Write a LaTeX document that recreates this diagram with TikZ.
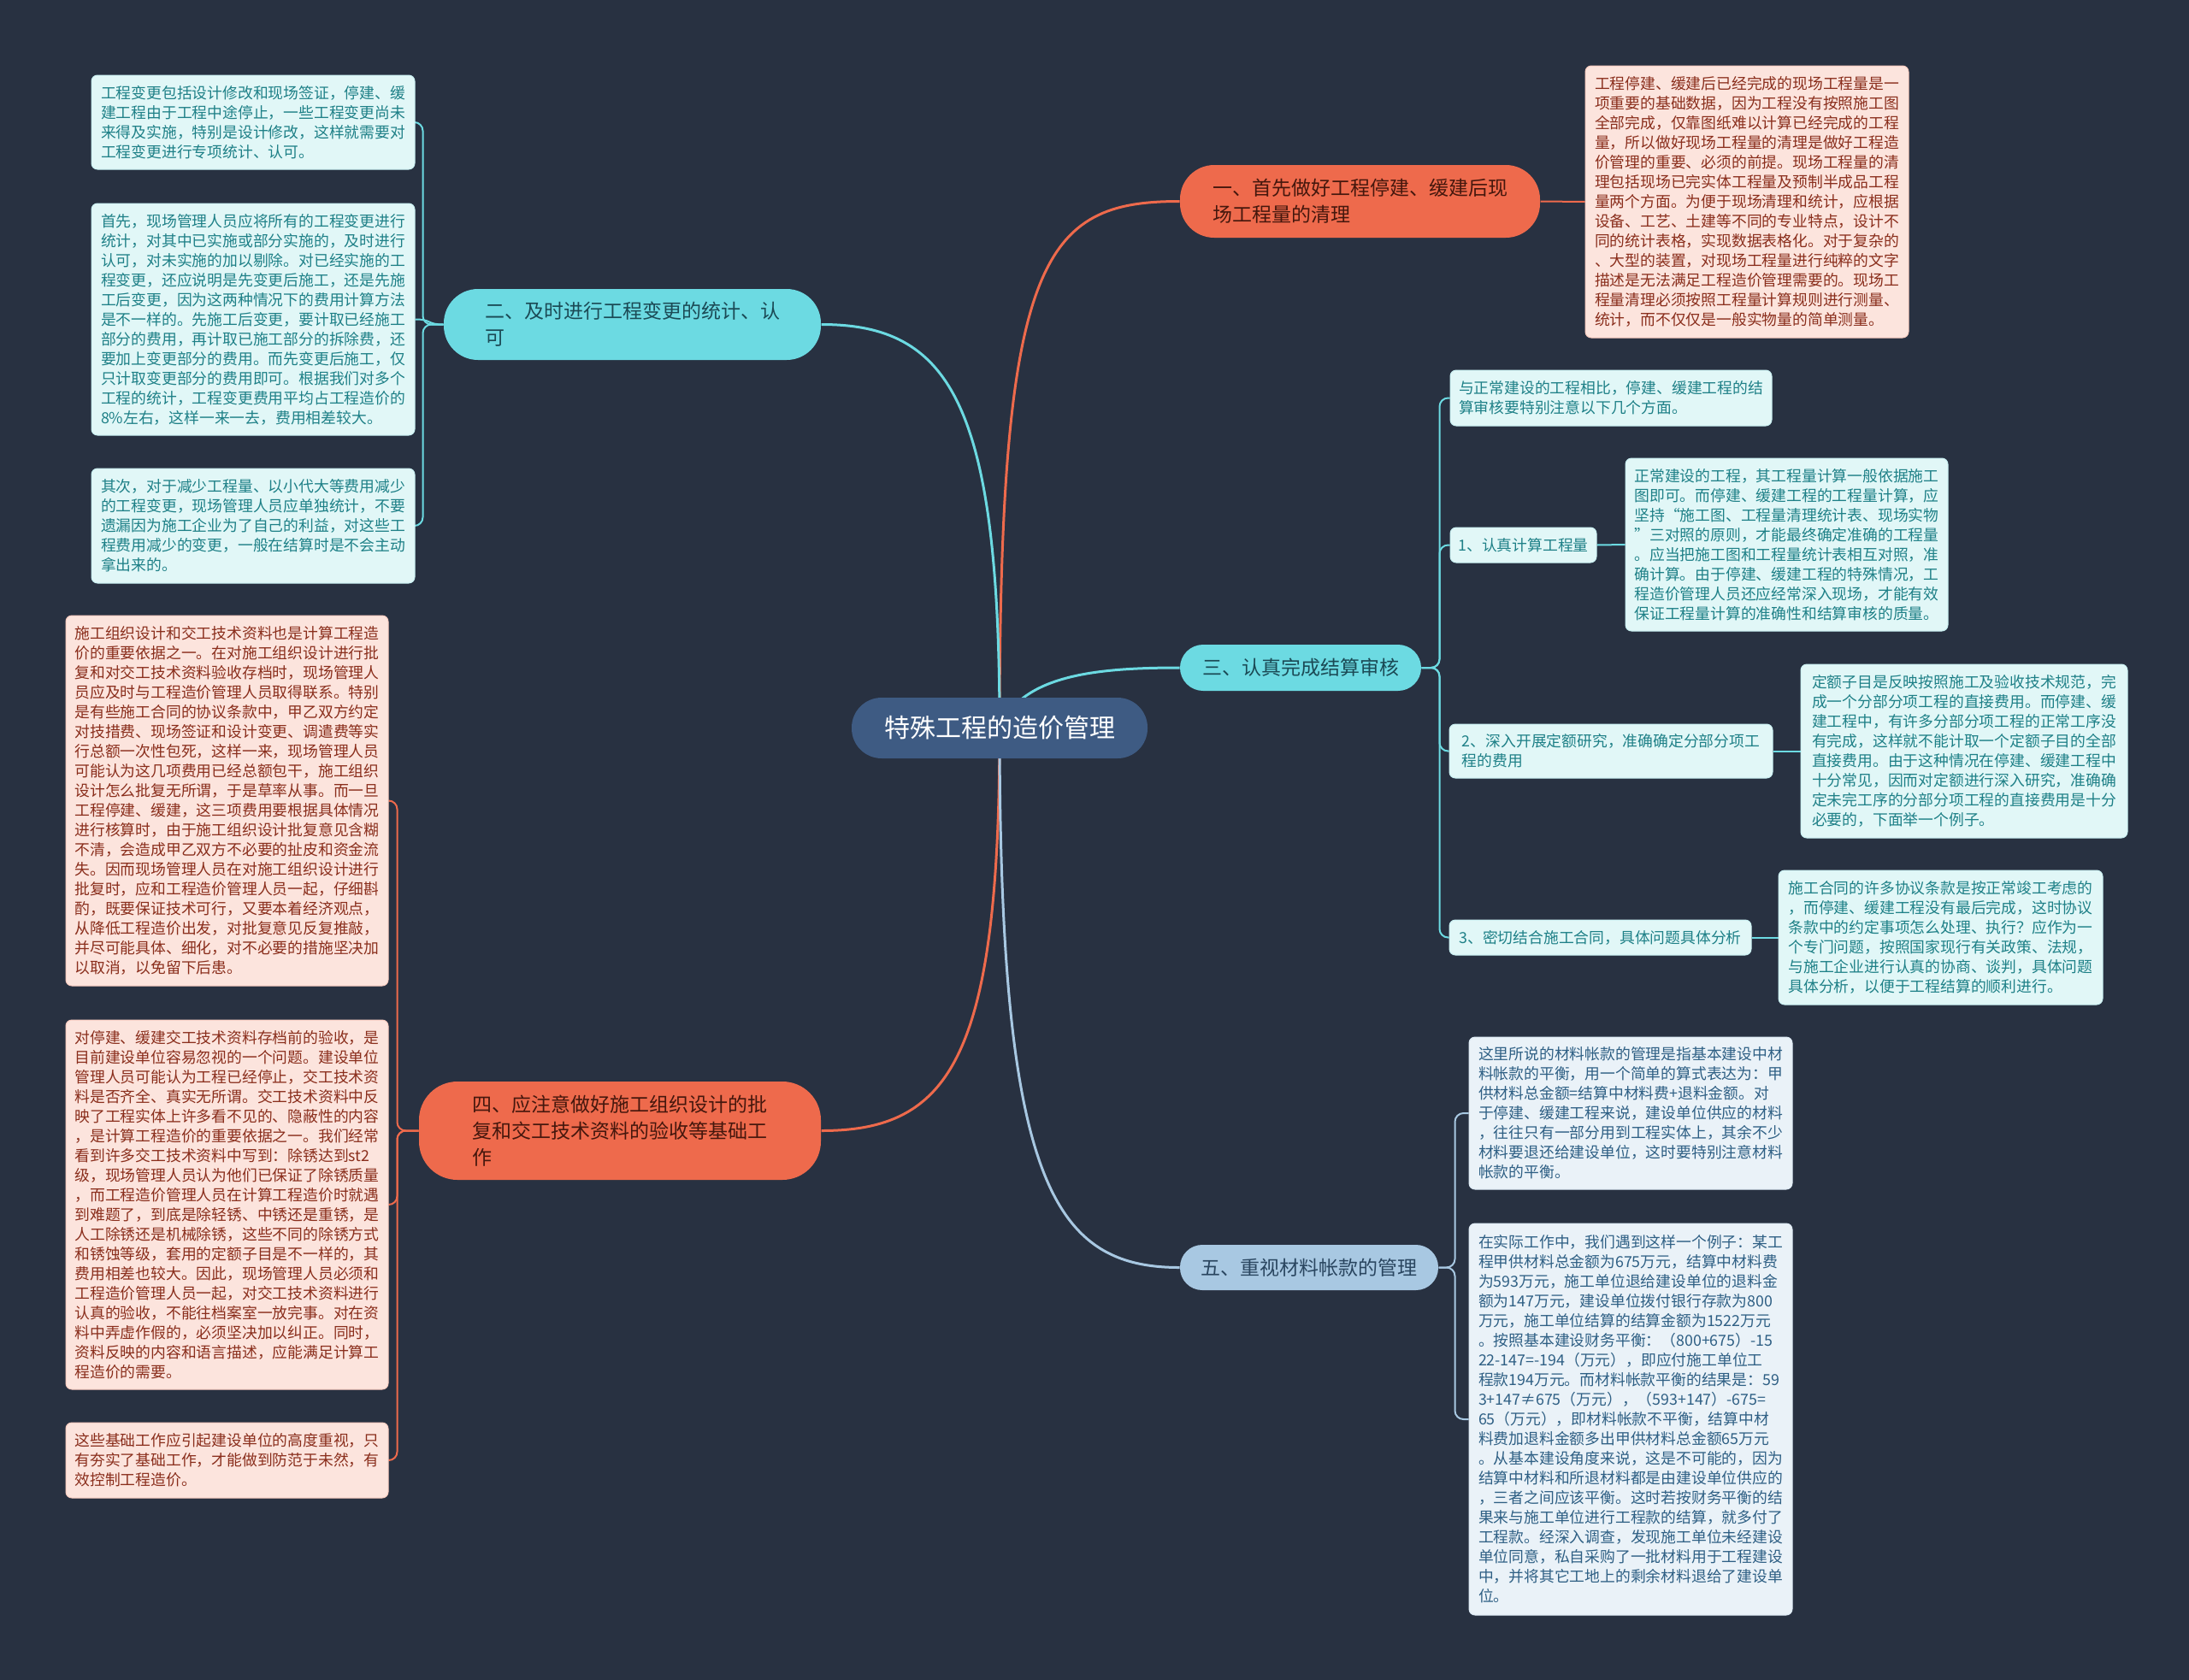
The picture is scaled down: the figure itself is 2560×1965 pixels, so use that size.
\documentclass[tikz,border=0pt]{standalone}
\usepackage{fontspec}
\setmainfont{Noto Sans CJK SC}
\pgfdeclarelayer{bglayer}
\pgfdeclarelayer{edgelayer}
\pgfsetlayers{bglayer,edgelayer,main}
\definecolor{bgc}{HTML}{283141}
\definecolor{centerc}{HTML}{3E5B83}
\definecolor{orc}{HTML}{EE6A4C}
\definecolor{cyc}{HTML}{6CDAE2}
\definecolor{blc}{HTML}{A8C8E2}
\definecolor{orfill}{HTML}{FCE4DD}
\definecolor{cyfill}{HTML}{E1F7F7}
\definecolor{blfill}{HTML}{EAF2F8}
\definecolor{ortext}{HTML}{8A2E1C}
\definecolor{cytext}{HTML}{1E8087}
\definecolor{bltext}{HTML}{2E5F84}
\definecolor{ormtext}{HTML}{45170D}
\definecolor{cymtext}{HTML}{1B4A55}
\definecolor{blmtext}{HTML}{2A4660}
\begin{document}
\begin{tikzpicture}[x=1pt,y=-1pt,
  box/.style={align=left, inner sep=0pt, line width=1pt},
  leaf/.style={box, rounded corners=7, font=\fontsize{17.8}{23}\selectfont},
  oleaf/.style={leaf, fill=orfill, draw=orfill!80!orc, text=ortext},
  cleaf/.style={leaf, fill=cyfill, draw=cyfill!80!cyc, text=cytext},
  bleaf/.style={leaf, fill=blfill, draw=blfill!80!blc, text=bltext},
  topic/.style={box, draw=none, font=\fontsize{23}{31}\selectfont},
  otopic/.style={topic, fill=orc, text=ormtext},
  ctopic/.style={topic, fill=cyc, text=cymtext},
  btopic/.style={topic, fill=blc, text=blmtext},
  oedge/.style={draw=orc, line width=3pt},
  cedge/.style={draw=cyc, line width=3pt},
  bedge/.style={draw=blc, line width=3pt},
  obrace/.style={draw=orc, line width=2pt, rounded corners=10},
  cbrace/.style={draw=cyc, line width=2pt, rounded corners=10},
  bbrace/.style={draw=blc, line width=2pt, rounded corners=10}
]
\begin{pgfonlayer}{bglayer}
\fill[bgc] (0,0) rectangle (2560,1965);
\end{pgfonlayer}
\useasboundingbox (0,0) rectangle (2560,1965);

% central node
\node[box, fill=centerc, text=white, rounded corners=35, minimum width=346, minimum height=71,
  font=\fontsize{30}{36}\selectfont] (c) at (1169,851.5) {特殊工程的造价管理};

% main topics
\node[otopic, rounded corners=40, minimum width=421, minimum height=85] (n1) at (1590.5,235.5)
  {一、首先做好工程停建、缓建后现\\场工程量的清理};
\node[ctopic, rounded corners=40, minimum width=441, minimum height=83] (n2) at (739.5,379.5)
  {二、及时进行工程变更的统计、认\\可};
\node[ctopic, rounded corners=27, minimum width=282, minimum height=54] (n3) at (1521,781)
  {三、认真完成结算审核};
\node[otopic, rounded corners=45, minimum width=470, minimum height=115] (n4) at (725,1322.5)
  {四、应注意做好施工组织设计的批\\复和交工技术资料的验收等基础工\\作};
\node[btopic, rounded corners=26, minimum width=302, minimum height=53] (n5) at (1531,1482.5)
  {五、重视材料帐款的管理};

% branch 1
\node[oleaf, minimum width=378, minimum height=318] (t1) at (2043,236) {%
工程停建、缓建后已经完成的现场工程量是一\\
项重要的基础数据，因为工程没有按照施工图\\
全部完成，仅靠图纸难以计算已经完成的工程\\
量，所以做好现场工程量的清理是做好工程造\\
价管理的重要、必须的前提。现场工程量的清\\
理包括现场已完实体工程量及预制半成品工程\\
量两个方面。为便于现场清理和统计，应根据\\
设备、工艺、土建等不同的专业特点，设计不\\
同的统计表格，实现数据表格化。对于复杂的\\
、大型的装置，对现场工程量进行纯粹的文字\\
描述是无法满足工程造价管理需要的。现场工\\
程量清理必须按照工程量计算规则进行测量、\\
统计，而不仅仅是一般实物量的简单测量。};

% branch 2
\node[cleaf, minimum width=378, minimum height=110] (a) at (296,143) {%
工程变更包括设计修改和现场签证，停建、缓\\
建工程由于工程中途停止，一些工程变更尚未\\
来得及实施，特别是设计修改，这样就需要对\\
工程变更进行专项统计、认可。};
\node[cleaf, minimum width=378, minimum height=271] (b) at (296,373.5) {%
首先，现场管理人员应将所有的工程变更进行\\
统计，对其中已实施或部分实施的，及时进行\\
认可，对未实施的加以剔除。对已经实施的工\\
程变更，还应说明是先变更后施工，还是先施\\
工后变更，因为这两种情况下的费用计算方法\\
是不一样的。先施工后变更，要计取已经施工\\
部分的费用，再计取已施工部分的拆除费，还\\
要加上变更部分的费用。而先变更后施工，仅\\
只计取变更部分的费用即可。根据我们对多个\\
工程的统计，工程变更费用平均占工程造价的\\
8\%左右，这样一来一去，费用相差较大。};
\node[cleaf, minimum width=378, minimum height=134] (cc) at (296,615) {%
其次，对于减少工程量、以小代大等费用减少\\
的工程变更，现场管理人员应单独统计，不要\\
遗漏因为施工企业为了自己的利益，对这些工\\
程费用减少的变更，一般在结算时是不会主动\\
拿出来的。};

% branch 3
\node[cleaf, minimum width=376, minimum height=65] (t0) at (1884,465.5) {%
与正常建设的工程相比，停建、缓建工程的结\\
算审核要特别注意以下几个方面。};
\node[cleaf, minimum width=171, minimum height=41] (n31) at (1781.5,637.5) {1、认真计算工程量};
\node[cleaf, minimum width=377, minimum height=202] (t31) at (2089.5,637) {%
正常建设的工程，其工程量计算一般依据施工\\
图即可。而停建、缓建工程的工程量计算，应\\
坚持“施工图、工程量清理统计表、现场实物\\
”三对照的原则，才能最终确定准确的工程量\\
。应当把施工图和工程量统计表相互对照，准\\
确计算。由于停建、缓建工程的特殊情况，工\\
程造价管理人员还应经常深入现场，才能有效\\
保证工程量计算的准确性和结算审核的质量。};
\node[cleaf, minimum width=378, minimum height=63] (n32) at (1884,878.5) {%
2、深入开展定额研究，准确确定分部分项工\\
程的费用};
\node[cleaf, minimum width=382, minimum height=203] (t32) at (2297,878.5) {%
定额子目是反映按照施工及验收技术规范，完\\
成一个分部分项工程的直接费用。而停建、缓\\
建工程中，有许多分部分项工程的正常工序没\\
有完成，这样就不能计取一个定额子目的全部\\
直接费用。由于这种情况在停建、缓建工程中\\
十分常见，因而对定额进行深入研究，准确确\\
定未完工序的分部分项工程的直接费用是十分\\
必要的，下面举一个例子。};
\node[cleaf, minimum width=353, minimum height=41] (n33) at (1871.5,1096.5) {3、密切结合施工合同，具体问题具体分析};
\node[cleaf, minimum width=379, minimum height=157] (t33) at (2269.5,1096.5) {%
施工合同的许多协议条款是按正常竣工考虑的\\
，而停建、缓建工程没有最后完成，这时协议\\
条款中的约定事项怎么处理、执行？应作为一\\
个专门问题，按照国家现行有关政策、法规，\\
与施工企业进行认真的协商、谈判，具体问题\\
具体分析，以便于工程结算的顺利进行。};

% branch 4
\node[oleaf, minimum width=377, minimum height=433] (d) at (265.5,936.5) {%
施工组织设计和交工技术资料也是计算工程造\\
价的重要依据之一。在对施工组织设计进行批\\
复和对交工技术资料验收存档时，现场管理人\\
员应及时与工程造价管理人员取得联系。特别\\
是有些施工合同的协议条款中，甲乙双方约定\\
对技措费、现场签证和设计变更、调遣费等实\\
行总额一次性包死，这样一来，现场管理人员\\
可能认为这几项费用已经总额包干，施工组织\\
设计怎么批复无所谓，于是草率从事。而一旦\\
工程停建、缓建，这三项费用要根据具体情况\\
进行核算时，由于施工组织设计批复意见含糊\\
不清，会造成甲乙双方不必要的扯皮和资金流\\
失。因而现场管理人员在对施工组织设计进行\\
批复时，应和工程造价管理人员一起，仔细斟\\
酌，既要保证技术可行，又要本着经济观点，\\
从降低工程造价出发，对批复意见反复推敲，\\
并尽可能具体、细化，对不必要的措施坚决加\\
以取消，以免留下后患。};
\node[oleaf, minimum width=377, minimum height=432] (e) at (265.5,1409) {%
对停建、缓建交工技术资料存档前的验收，是\\
目前建设单位容易忽视的一个问题。建设单位\\
管理人员可能认为工程已经停止，交工技术资\\
料是否齐全、真实无所谓。交工技术资料中反\\
映了工程实体上许多看不见的、隐蔽性的内容\\
，是计算工程造价的重要依据之一。我们经常\\
看到许多交工技术资料中写到：除锈达到st2\\
级，现场管理人员认为他们已保证了除锈质量\\
，而工程造价管理人员在计算工程造价时就遇\\
到难题了，到底是除轻锈、中锈还是重锈，是\\
人工除锈还是机械除锈，这些不同的除锈方式\\
和锈蚀等级，套用的定额子目是不一样的，其\\
费用相差也较大。因此，现场管理人员必须和\\
工程造价管理人员一起，对交工技术资料进行\\
认真的验收，不能往档案室一放完事。对在资\\
料中弄虚作假的，必须坚决加以纠正。同时，\\
资料反映的内容和语言描述，应能满足计算工\\
程造价的需要。};
\node[oleaf, minimum width=377, minimum height=88] (f) at (265.5,1708) {%
这些基础工作应引起建设单位的高度重视，只\\
有夯实了基础工作，才能做到防范于未然，有\\
效控制工程造价。};

% branch 5
\node[bleaf, minimum width=378, minimum height=178] (t51) at (1907,1302) {%
这里所说的材料帐款的管理是指基本建设中材\\
料帐款的平衡，用一个简单的算式表达为：甲\\
供材料总金额=结算中材料费+退料金额。对\\
于停建、缓建工程来说，建设单位供应的材料\\
，往往只有一部分用到工程实体上，其余不少\\
材料要退还给建设单位，这时要特别注意材料\\
帐款的平衡。};
\node[bleaf, minimum width=378, minimum height=458] (t52) at (1907,1660) {%
在实际工作中，我们遇到这样一个例子：某工\\
程甲供材料总金额为675万元，结算中材料费\\
为593万元，施工单位退给建设单位的退料金\\
额为147万元，建设单位拨付银行存款为800\\
万元，施工单位结算的结算金额为1522万元\\
。按照基本建设财务平衡：（800+675）-15\\
22-147=-194（万元），即应付施工单位工\\
程款194万元。而材料帐款平衡的结果是：59\\
3+147≠675（万元），（593+147）-675=\\
65（万元），即材料帐款不平衡，结算中材\\
料费加退料金额多出甲供材料总金额65万元\\
。从基本建设角度来说，这是不可能的，因为\\
结算中材料和所退材料都是由建设单位供应的\\
，三者之间应该平衡。这时若按财务平衡的结\\
果来与施工单位进行工程款的结算，就多付了\\
工程款。经深入调查，发现施工单位未经建设\\
单位同意，私自采购了一批材料用于工程建设\\
中，并将其它工地上的剩余材料退给了建设单\\
位。};

% connectors
\begin{pgfonlayer}{edgelayer}
\draw[oedge] (c.center) .. controls (1169,300) and (1220,235.5) .. (n1.west);
\draw[cedge] (c.center) .. controls (1169,470) and (1110,379.5) .. (n2.east);
\draw[cedge] (c.center) .. controls (1195,790) and (1280,781) .. (n3.west);
\draw[oedge] (c.center) .. controls (1169,1240) and (1110,1322.5) .. (n4.east);
\draw[bedge] (c.center) .. controls (1169,1380) and (1230,1482.5) .. (n5.west);
% branch 1
\draw[orc, line width=2pt] (n1.east) -- (t1.west);
% branch 2
\draw[cbrace] (n2.west) -- ++(-24,0) |- (a.east);
\draw[cyc, line width=2pt] (n2.west) .. controls +(-20,0) and +(20,0) .. (b.east);
\draw[cbrace] (n2.west) -- ++(-24,0) |- (cc.east);
% branch 3
\draw[cbrace] (n3.east) -- ++(21,0) |- (t0.west);
\draw[cbrace] (n3.east) -- ++(21,0) |- (n31.west);
\draw[cbrace] (n3.east) -- ++(21,0) |- (n32.west);
\draw[cbrace] (n3.east) -- ++(21,0) |- (n33.west);
\draw[cyc, line width=2pt] (n31.east) -- (t31.west);
\draw[cyc, line width=2pt] (n32.east) -- (t32.west);
\draw[cyc, line width=2pt] (n33.east) -- (t33.west);
% branch 4
\draw[obrace] (n4.west) -- ++(-25,0) |- (d.east);
\draw[obrace] (n4.west) -- ++(-25,0) |- (e.east);
\draw[obrace] (n4.west) -- ++(-25,0) |- (f.east);
% branch 5
\draw[bbrace] (n5.east) -- ++(19,0) |- (t51.west);
\draw[bbrace] (n5.east) -- ++(19,0) |- (t52.west);
\end{pgfonlayer}
\end{tikzpicture}
\end{document}
